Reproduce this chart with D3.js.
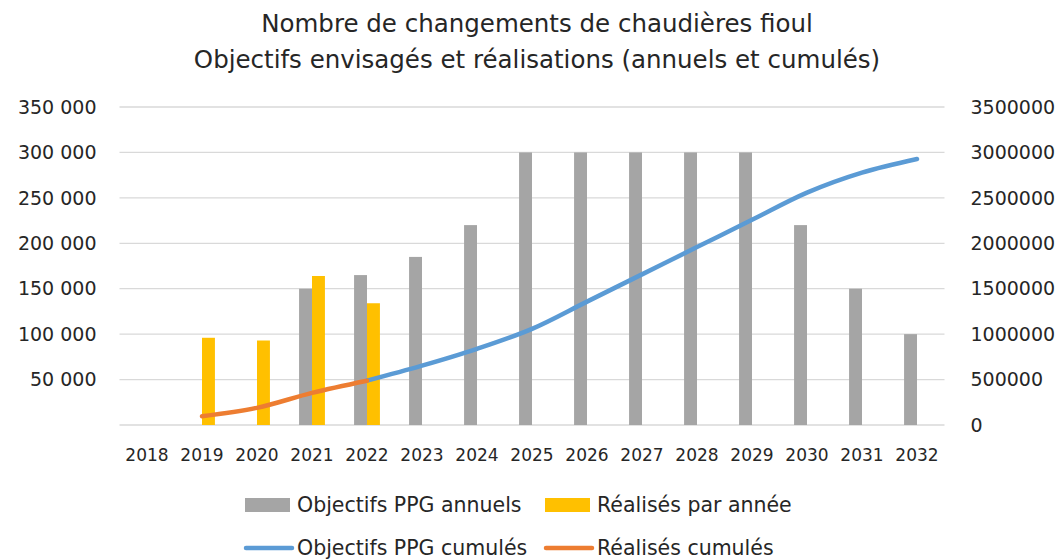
<!DOCTYPE html>
<html>
<head>
<meta charset="utf-8">
<script src="https://cdn.jsdelivr.net/npm/d3@7"></script>
<style>
  body { margin: 0; background: #fff; }
  svg text { font-family: "DejaVu Sans", "Open Sans", sans-serif; fill: #262626; }
</style>
</head>
<body>
<svg id="chart" width="1061" height="559"></svg>
<script>
var years = ['2018','2019','2020','2021','2022','2023','2024','2025','2026','2027','2028','2029','2030','2031','2032'];
var objectifsAnnuels = [0, 0, 0, 150000, 165000, 185000, 220000, 300000, 300000, 300000, 300000, 300000, 220000, 150000, 100000];
var realisesAnnee = [0, 96000, 93000, 164000, 134000, null, null, null, null, null, null, null, null, null, null];
var objectifsCumules = [null, null, null, null, 488000, 653000, 838000, 1058000, 1358000, 1658000, 1958000, 2258000, 2558000, 2778000, 2928000];
var realisesCumules = [null, 96000, 189000, 353000, 487000, null, null, null, null, null, null, null, null, null, null];
var leftTicks = [0, 50000, 100000, 150000, 200000, 250000, 300000, 350000];
var rightTicks = [0, 500000, 1000000, 1500000, 2000000, 2500000, 3000000, 3500000];

var colors = { grey: '#a5a5a5', yellow: '#ffc000', blue: '#5b9bd5', orange: '#ed7d31' };

var svg = d3.select('#chart');
var margin = { left: 119.5, right: 116.5, top: 107, bottom: 134 };
var width = 1061 - margin.left - margin.right,
    height = 559 - margin.top - margin.bottom;

var g = svg.append('g').attr('transform', 'translate(' + margin.left + ',' + margin.top + ')');

var x = d3.scaleBand().domain(years).range([0, width]).paddingInner(0.53).paddingOuter(0.265);
var xSub = d3.scaleBand().domain(['obj', 'real']).range([0, x.bandwidth()]);
var yLeft = d3.scaleLinear().domain([0, 350000]).range([height, 0]);
var yRight = d3.scaleLinear().domain([0, 3500000]).range([height, 0]);

// gridlines
g.selectAll('.grid').data(leftTicks).enter().append('line')
    .attr('x1', 0).attr('x2', width)
    .attr('y1', function (d) { return yLeft(d); })
    .attr('y2', function (d) { return yLeft(d); })
    .style('stroke', '#d9d9d9').style('stroke-width', 1.3);

// left axis labels
var fmtLeft = function (d) { return d === 0 ? '' : d3.format(',')(d).replace(/,/g, ' '); };
g.selectAll('.lt').data(leftTicks).enter().append('text')
    .attr('x', -23).attr('y', function (d) { return yLeft(d); })
    .attr('dy', '0.35em').attr('text-anchor', 'end')
    .style('font-size', '19px')
    .text(fmtLeft);

// right axis labels
g.selectAll('.rt').data(rightTicks).enter().append('text')
    .attr('x', width + 26).attr('y', function (d) { return yRight(d); })
    .attr('dy', '0.35em').attr('text-anchor', 'start')
    .style('font-size', '19px')
    .text(function (d) { return d; });

// x labels
g.selectAll('.xl').data(years).enter().append('text')
    .attr('x', function (d) { return x(d) + x.bandwidth() / 2; })
    .attr('y', height + 30)
    .attr('dy', '0.35em').attr('text-anchor', 'middle')
    .style('font-size', '17px')
    .text(function (d) { return d; });

// bars
g.selectAll('.barObj').data(years).enter().append('rect')
    .attr('x', function (d) { return x(d) + xSub('obj'); })
    .attr('width', xSub.bandwidth())
    .attr('y', function (d, i) { return yLeft(objectifsAnnuels[i]); })
    .attr('height', function (d, i) { return height - yLeft(objectifsAnnuels[i]); })
    .style('fill', colors.grey);

g.selectAll('.barReal').data(years.filter(function (d, i) { return realisesAnnee[i] != null; })).enter().append('rect')
    .attr('x', function (d) { return x(d) + xSub('real'); })
    .attr('width', xSub.bandwidth())
    .attr('y', function (d) { return yLeft(realisesAnnee[years.indexOf(d)]); })
    .attr('height', function (d) { return height - yLeft(realisesAnnee[years.indexOf(d)]); })
    .style('fill', colors.yellow);

// lines
var line = d3.line()
    .defined(function (d) { return d.v != null; })
    .x(function (d) { return x(d.year) + x.bandwidth() / 2; })
    .y(function (d) { return yRight(d.v); })
    .curve(d3.curveCatmullRom.alpha(0.5));

function series(arr) { return years.map(function (y, i) { return { year: y, v: arr[i] }; }); }

g.append('path').datum(series(objectifsCumules))
    .attr('d', line)
    .style('fill', 'none').style('stroke', colors.blue)
    .style('stroke-width', 4.5).style('stroke-linecap', 'round').style('stroke-linejoin', 'round');

g.append('path').datum(series(realisesCumules))
    .attr('d', line)
    .style('fill', 'none').style('stroke', colors.orange)
    .style('stroke-width', 4.5).style('stroke-linecap', 'round').style('stroke-linejoin', 'round');

// title
var title = svg.append('text').attr('text-anchor', 'middle').style('font-size', '24.5px');
title.append('tspan').attr('x', 537).attr('y', 32).text('Nombre de changements de chaudières fioul');
title.append('tspan').attr('x', 537).attr('y', 68).text('Objectifs envisagés et réalisations (annuels et cumulés)');

// legend
var legend = [
    { label: 'Objectifs PPG annuels', type: 'rect', color: colors.grey, x: 245, y: 505 },
    { label: 'Réalisés par année', type: 'rect', color: colors.yellow, x: 545, y: 505 },
    { label: 'Objectifs PPG cumulés', type: 'line', color: colors.blue, x: 245, y: 548 },
    { label: 'Réalisés cumulés', type: 'line', color: colors.orange, x: 545, y: 548 }
];
var lg = svg.selectAll('.legend').data(legend).enter().append('g')
    .attr('transform', function (d) { return 'translate(' + d.x + ',' + d.y + ')'; });
lg.filter(function (d) { return d.type === 'rect'; }).append('rect')
    .attr('x', 0).attr('y', -7).attr('width', 45).attr('height', 14)
    .style('fill', function (d) { return d.color; });
lg.filter(function (d) { return d.type === 'line'; }).append('line')
    .attr('x1', 1).attr('x2', 47).attr('y1', 0).attr('y2', 0)
    .style('stroke', function (d) { return d.color; })
    .style('stroke-width', 4.5).style('stroke-linecap', 'round');
lg.append('text').attr('x', 52).attr('dy', '0.35em')
    .style('font-size', '20.5px')
    .text(function (d) { return d.label; });
</script>
</body>
</html>
